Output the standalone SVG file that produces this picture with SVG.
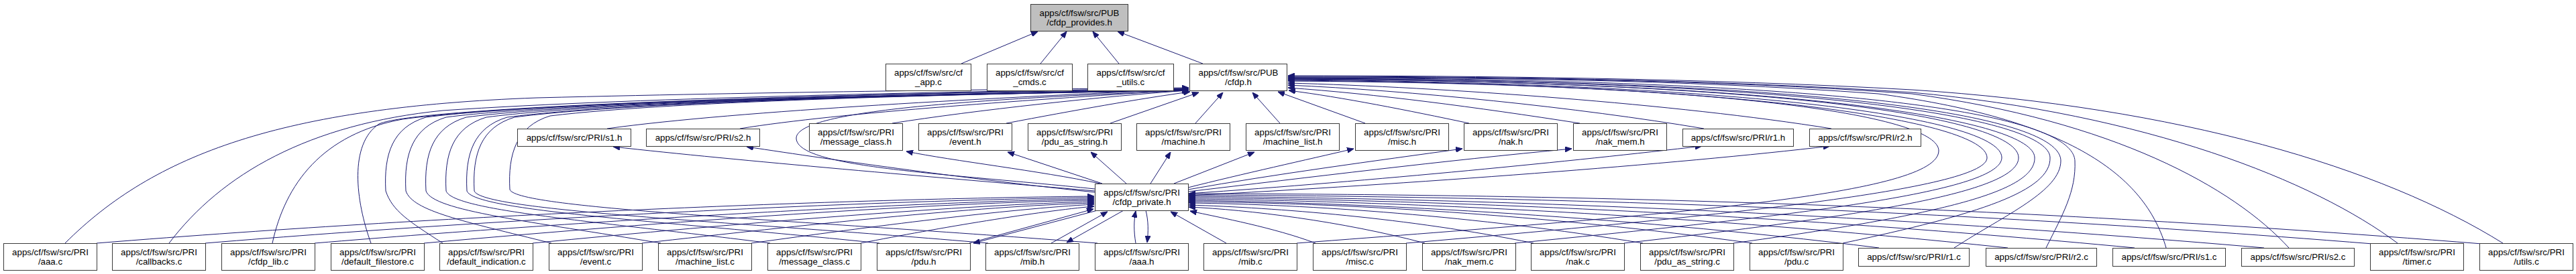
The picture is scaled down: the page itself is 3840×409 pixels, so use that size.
<svg xmlns="http://www.w3.org/2000/svg" width="3840" height="409" viewBox="0 0 3840 409">
<style>
.n rect{fill:#ffffff;stroke:#3a3a3a;stroke-width:1}
.root rect{fill:#bfbfbf}
text{font-family:"Liberation Sans",Arial,Helvetica,sans-serif;font-size:13.3px;text-anchor:middle;fill:#000}
#edges path{fill:none;stroke:#191970;stroke-width:1;marker-end:url(#a)}
</style>
<defs>
<marker id="a" viewBox="0 0 10 8" refX="10" refY="4" markerWidth="10" markerHeight="8" markerUnits="userSpaceOnUse" orient="auto"><path d="M0,0 L10,4 L0,8 z" fill="#191970" stroke="#191970" stroke-width="1"/></marker>
</defs>
<rect x="0" y="0" width="3840" height="409" fill="#ffffff"/>
<g id="edges">
<path d="M1433,95 L1547,47"/>
<path d="M1551,95 L1590,47"/>
<path d="M1668,95 L1629,47"/>
<path d="M1793,95 L1666,47"/>
<path d="M905,192 C1100,165 1500,145 1772,133"/>
<path d="M1103,192 C1250,168 1550,148 1772,134"/>
<path d="M1330,184 C1450,165 1650,143 1772,135"/>
<path d="M1500,184 C1600,165 1700,147 1774,137"/>
<path d="M1655,184 L1787,138"/>
<path d="M1782,184 L1823,138"/>
<path d="M1908,184 L1867,138"/>
<path d="M2035,184 L1905,137"/>
<path d="M2190,184 C2100,165 2000,145 1921,135"/>
<path d="M2355,184 C2200,160 2050,140 1920,131"/>
<path d="M2540,192 C2350,160 2100,135 1920,127"/>
<path d="M2730,192 C2500,155 2150,130 1920,124"/>
<path d="M1632,282 C1400,258 1190,250 1187,207 C1184,165 1450,148 1772,135"/>
<path d="M1632,285 C1400,265 1100,240 914,219"/>
<path d="M1632,287 C1450,268 1250,240 1113,219"/>
<path d="M1640,274 C1550,255 1420,240 1351,226"/>
<path d="M1643,274 L1502,227"/>
<path d="M1679,274 L1626,227"/>
<path d="M1715,274 L1745,227"/>
<path d="M1750,274 L1870,227"/>
<path d="M1771,280 C1850,260 1950,238 2018,222"/>
<path d="M1771,283 C1900,260 2050,240 2180,222"/>
<path d="M1771,286 C1950,265 2150,240 2343,222"/>
<path d="M1771,289 C2050,270 2350,240 2537,218"/>
<path d="M1771,292 C2100,275 2500,245 2728,218"/>
<path d="M144,363 C700,318 1300,296 1631,293"/>
<path d="M306,363 C800,322 1350,298 1631,295"/>
<path d="M469,363 C900,327 1400,300 1631,297"/>
<path d="M632,363 C1000,330 1400,302 1631,299"/>
<path d="M794,363 C1100,333 1450,305 1631,301"/>
<path d="M957,363 C1200,336 1450,308 1631,303"/>
<path d="M1120,363 C1300,338 1500,312 1631,305"/>
<path d="M1283,363 C1400,340 1550,315 1631,308"/>
<path d="M1445,363 L1630,312"/>
<path d="M1636,314 L1451,363"/>
<path d="M1567,363 L1651,316"/>
<path d="M1675,314 L1590,362"/>
<path d="M1693,363 C1690,345 1690,330 1693,315"/>
<path d="M1708,314 C1712,330 1712,345 1710,362"/>
<path d="M1828,363 L1745,316"/>
<path d="M1961,363 C1900,340 1820,325 1774,315"/>
<path d="M2124,363 C2000,330 1860,313 1772,309"/>
<path d="M2286,363 C2100,325 1900,310 1772,306"/>
<path d="M2449,363 C2200,322 1950,305 1772,303"/>
<path d="M2612,363 C2300,320 2000,303 1772,301"/>
<path d="M2801,370 C2400,320 2000,302 1772,299"/>
<path d="M2993,370 C2500,318 2050,300 1772,297"/>
<path d="M3182,370 C2600,315 2100,298 1772,295"/>
<path d="M3375,370 C2700,312 2150,296 1772,293"/>
<path d="M3537,364 C2800,305 2200,293 1772,291"/>
<path d="M3700,364 C2900,300 2250,290 1772,289"/>
<path d="M97,363 C230,230 420,160 800,146 C1200,136 1550,133 1772,131"/>
<path d="M252,363 C330,260 460,185 660,165 C950,145 1500,135 1772,132"/>
<path d="M406,363 C425,275 480,200 600,178 C800,150 1500,136 1772,132"/>
<path d="M553,363 C530,300 520,215 565,185 C620,160 1200,140 1772,133"/>
<path d="M660,363 C609,330 585,315 575,285 C572,230 585,190 635,175 C825,150 1450,140 1772,133"/>
<path d="M822,363 C690,330 615,315 605,285 C602,230 615,190 665,175 C855,150 1450,140 1772,134"/>
<path d="M985,363 C790,330 645,315 635,285 C632,230 645,190 695,175 C885,150 1450,140 1772,134"/>
<path d="M1148,363 C890,330 675,315 665,285 C662,230 675,190 725,175 C915,150 1450,140 1772,134"/>
<path d="M1311,363 C990,330 706,315 696,285 C693,230 706,190 756,175 C946,150 1450,140 1772,135"/>
<path d="M1473,363 C1090,330 717,315 707,285 C704,230 717,190 767,175 C957,150 1450,140 1772,135"/>
<path d="M1636,363 C1190,328 770,312 760,283 C757,230 770,188 820,173 C1010,150 1450,140 1772,135"/>
<path d="M1933,363 C2500,320 2890,290 2890,225 C2890,175 2600,125 1920,121"/>
<path d="M2096,363 C2600,320 2965,280 2962,235 C2960,180 2600,125 1920,120"/>
<path d="M2258,363 C2700,320 2985,285 2984,235 C2983,180 2650,125 1920,119"/>
<path d="M2421,363 C2800,320 3010,285 3009,235 C3008,180 2700,122 1920,118"/>
<path d="M2584,363 C2900,320 3035,285 3033,235 C3031,180 2700,122 1920,118"/>
<path d="M2747,363 C2950,320 3058,285 3056,235 C3054,180 2750,120 1920,117"/>
<path d="M2913,370 C2990,320 3072,285 3072,240 C3072,180 2800,120 1920,117"/>
<path d="M3050,370 C3075,320 3095,285 3093,240 C3090,180 2850,118 1920,116"/>
<path d="M3229,370 C3200,270 3100,180 2800,140 C2500,118 2200,116 1920,116"/>
<path d="M3412,370 C3330,280 3150,180 2850,140 C2550,118 2200,115 1920,115"/>
<path d="M3574,363 C3450,270 3200,170 2850,138 C2550,118 2200,114 1920,114"/>
<path d="M3731,363 C3550,250 3250,160 2850,134 C2550,117 2200,113 1920,113"/>
</g>
<g id="node-cfdp_provides_h" class="n root"><rect x="1536.5" y="6.5" width="145" height="40"/><text x="1609" y="24">apps/cf/fsw/src/PUB</text><text x="1609" y="38">/cfdp_provides.h</text></g>
<g id="node-cf_app_c" class="n"><rect x="1320.5" y="95.5" width="127" height="40"/><text x="1384" y="113">apps/cf/fsw/src/cf</text><text x="1384" y="127">_app.c</text></g>
<g id="node-cf_cmds_c" class="n"><rect x="1471.5" y="95.5" width="127" height="40"/><text x="1535" y="113">apps/cf/fsw/src/cf</text><text x="1535" y="127">_cmds.c</text></g>
<g id="node-cf_utils_c" class="n"><rect x="1621.5" y="95.5" width="128" height="40"/><text x="1685.5" y="113">apps/cf/fsw/src/cf</text><text x="1685.5" y="127">_utils.c</text></g>
<g id="node-cfdp_h" class="n"><rect x="1773.5" y="95.5" width="145" height="40"/><text x="1846" y="113">apps/cf/fsw/src/PUB</text><text x="1846" y="127">/cfdp.h</text></g>
<g id="node-s1_h" class="n"><rect x="771.5" y="192.5" width="169" height="26"/><text x="856" y="210">apps/cf/fsw/src/PRI/s1.h</text></g>
<g id="node-s2_h" class="n"><rect x="963.5" y="192.5" width="169" height="26"/><text x="1048" y="210">apps/cf/fsw/src/PRI/s2.h</text></g>
<g id="node-message_class_h" class="n"><rect x="1206.5" y="184.5" width="139" height="40"/><text x="1276" y="202">apps/cf/fsw/src/PRI</text><text x="1276" y="216">/message_class.h</text></g>
<g id="node-event_h" class="n"><rect x="1369.5" y="184.5" width="139" height="40"/><text x="1439" y="202">apps/cf/fsw/src/PRI</text><text x="1439" y="216">/event.h</text></g>
<g id="node-pdu_as_string_h" class="n"><rect x="1532.5" y="184.5" width="139" height="40"/><text x="1602" y="202">apps/cf/fsw/src/PRI</text><text x="1602" y="216">/pdu_as_string.h</text></g>
<g id="node-machine_h" class="n"><rect x="1694.5" y="184.5" width="139" height="40"/><text x="1764" y="202">apps/cf/fsw/src/PRI</text><text x="1764" y="216">/machine.h</text></g>
<g id="node-machine_list_h" class="n"><rect x="1857.5" y="184.5" width="139" height="40"/><text x="1927" y="202">apps/cf/fsw/src/PRI</text><text x="1927" y="216">/machine_list.h</text></g>
<g id="node-misc_h" class="n"><rect x="2020.5" y="184.5" width="139" height="40"/><text x="2090" y="202">apps/cf/fsw/src/PRI</text><text x="2090" y="216">/misc.h</text></g>
<g id="node-nak_h" class="n"><rect x="2182.5" y="184.5" width="139" height="40"/><text x="2252" y="202">apps/cf/fsw/src/PRI</text><text x="2252" y="216">/nak.h</text></g>
<g id="node-nak_mem_h" class="n"><rect x="2345.5" y="184.5" width="139" height="40"/><text x="2415" y="202">apps/cf/fsw/src/PRI</text><text x="2415" y="216">/nak_mem.h</text></g>
<g id="node-r1_h" class="n"><rect x="2508.5" y="192.5" width="165" height="26"/><text x="2591" y="210">apps/cf/fsw/src/PRI/r1.h</text></g>
<g id="node-r2_h" class="n"><rect x="2697.5" y="192.5" width="166" height="26"/><text x="2780.5" y="210">apps/cf/fsw/src/PRI/r2.h</text></g>
<g id="node-cfdp_private_h" class="n"><rect x="1632.5" y="274.5" width="139" height="40"/><text x="1702" y="292">apps/cf/fsw/src/PRI</text><text x="1702" y="306">/cfdp_private.h</text></g>
<g id="node-aaa_c" class="n"><rect x="5.5" y="363.5" width="139" height="40"/><text x="75" y="381">apps/cf/fsw/src/PRI</text><text x="75" y="395">/aaa.c</text></g>
<g id="node-callbacks_c" class="n"><rect x="167.5" y="363.5" width="139" height="40"/><text x="237" y="381">apps/cf/fsw/src/PRI</text><text x="237" y="395">/callbacks.c</text></g>
<g id="node-cfdp_lib_c" class="n"><rect x="330.5" y="363.5" width="139" height="40"/><text x="400" y="381">apps/cf/fsw/src/PRI</text><text x="400" y="395">/cfdp_lib.c</text></g>
<g id="node-default_filestore_c" class="n"><rect x="493.5" y="363.5" width="139" height="40"/><text x="563" y="381">apps/cf/fsw/src/PRI</text><text x="563" y="395">/default_filestore.c</text></g>
<g id="node-default_indication_c" class="n"><rect x="655.5" y="363.5" width="139" height="40"/><text x="725" y="381">apps/cf/fsw/src/PRI</text><text x="725" y="395">/default_indication.c</text></g>
<g id="node-event_c" class="n"><rect x="818.5" y="363.5" width="139" height="40"/><text x="888" y="381">apps/cf/fsw/src/PRI</text><text x="888" y="395">/event.c</text></g>
<g id="node-machine_list_c" class="n"><rect x="981.5" y="363.5" width="139" height="40"/><text x="1051" y="381">apps/cf/fsw/src/PRI</text><text x="1051" y="395">/machine_list.c</text></g>
<g id="node-message_class_c" class="n"><rect x="1144.5" y="363.5" width="139" height="40"/><text x="1214" y="381">apps/cf/fsw/src/PRI</text><text x="1214" y="395">/message_class.c</text></g>
<g id="node-pdu_h" class="n"><rect x="1307.5" y="363.5" width="139" height="40"/><text x="1377" y="381">apps/cf/fsw/src/PRI</text><text x="1377" y="395">/pdu.h</text></g>
<g id="node-mib_h" class="n"><rect x="1469.5" y="363.5" width="139" height="40"/><text x="1539" y="381">apps/cf/fsw/src/PRI</text><text x="1539" y="395">/mib.h</text></g>
<g id="node-aaa_h" class="n"><rect x="1632.5" y="363.5" width="139" height="40"/><text x="1702" y="381">apps/cf/fsw/src/PRI</text><text x="1702" y="395">/aaa.h</text></g>
<g id="node-mib_c" class="n"><rect x="1794.5" y="363.5" width="139" height="40"/><text x="1864" y="381">apps/cf/fsw/src/PRI</text><text x="1864" y="395">/mib.c</text></g>
<g id="node-misc_c" class="n"><rect x="1957.5" y="363.5" width="139" height="40"/><text x="2027" y="381">apps/cf/fsw/src/PRI</text><text x="2027" y="395">/misc.c</text></g>
<g id="node-nak_mem_c" class="n"><rect x="2120.5" y="363.5" width="139" height="40"/><text x="2190" y="381">apps/cf/fsw/src/PRI</text><text x="2190" y="395">/nak_mem.c</text></g>
<g id="node-nak_c" class="n"><rect x="2282.5" y="363.5" width="139" height="40"/><text x="2352" y="381">apps/cf/fsw/src/PRI</text><text x="2352" y="395">/nak.c</text></g>
<g id="node-pdu_as_string_c" class="n"><rect x="2445.5" y="363.5" width="139" height="40"/><text x="2515" y="381">apps/cf/fsw/src/PRI</text><text x="2515" y="395">/pdu_as_string.c</text></g>
<g id="node-pdu_c" class="n"><rect x="2608.5" y="363.5" width="139" height="40"/><text x="2678" y="381">apps/cf/fsw/src/PRI</text><text x="2678" y="395">/pdu.c</text></g>
<g id="node-r1_c" class="n"><rect x="2770.5" y="370.5" width="165" height="27"/><text x="2853" y="388">apps/cf/fsw/src/PRI/r1.c</text></g>
<g id="node-r2_c" class="n"><rect x="2960.5" y="370.5" width="165" height="27"/><text x="3043" y="388">apps/cf/fsw/src/PRI/r2.c</text></g>
<g id="node-s1_c" class="n"><rect x="3149.5" y="370.5" width="168" height="27"/><text x="3233.5" y="388">apps/cf/fsw/src/PRI/s1.c</text></g>
<g id="node-s2_c" class="n"><rect x="3341.5" y="370.5" width="168" height="27"/><text x="3425.5" y="388">apps/cf/fsw/src/PRI/s2.c</text></g>
<g id="node-timer_c" class="n"><rect x="3533.5" y="363.5" width="139" height="40"/><text x="3603" y="381">apps/cf/fsw/src/PRI</text><text x="3603" y="395">/timer.c</text></g>
<g id="node-utils_c" class="n"><rect x="3696.5" y="363.5" width="139" height="40"/><text x="3766" y="381">apps/cf/fsw/src/PRI</text><text x="3766" y="395">/utils.c</text></g>
</svg>
